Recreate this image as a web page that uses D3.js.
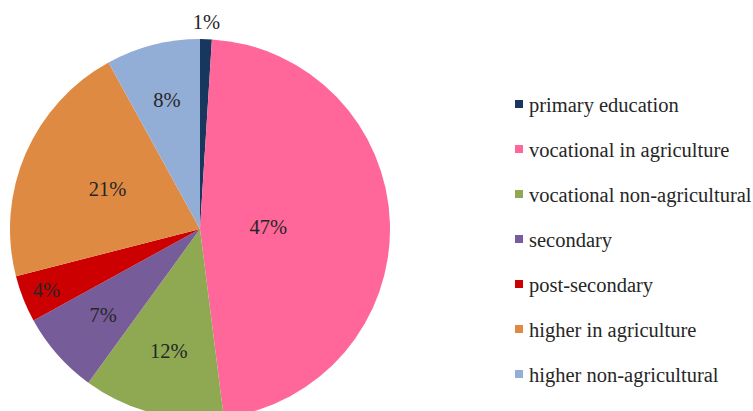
<!DOCTYPE html>
<html>
<head>
<meta charset="utf-8">
<script src="https://cdn.jsdelivr.net/npm/d3@7"></script>
<style>
  body { margin: 0; background: #fff; }
  svg { display: block; }
</style>
</head>
<body>
<svg id="chart" width="753" height="411"></svg>
<script>
// data
var categories = ["primary education", "vocational in agriculture", "vocational non-agricultural",
                  "secondary", "post-secondary", "higher in agriculture", "higher non-agricultural"];
var shares = [1, 47, 12, 7, 4, 21, 8];
var colors = ["#17375e", "#ff6699", "#8fa953", "#765c99", "#cc0000", "#df8a42", "#93aed6"];

// where each label sits, as fraction of radius (excel "best fit" look)
var labelPos = [1.09, 0.36, 0.66, 0.68, 0.87, 0.53, 0.70];

var serif = "'Liberation Serif', 'Times New Roman', serif";
var width = 753, height = 411;
var cx = 200, cy = 229, radius = 190;

var svg = d3.select("#chart");

var pie = d3.pie().sort(null).value(function(d){ return d; });
var arcs = pie(shares);

var arc = d3.arc().innerRadius(0).outerRadius(radius);

var g = svg.append("g").attr("transform", "translate(" + cx + "," + cy + ")");

g.selectAll("path")
    .data(arcs)
    .enter().append("path")
    .attr("d", arc)
    .attr("fill", function(d, i){ return colors[i]; });

g.selectAll("text.lbl")
    .data(arcs)
    .enter().append("text")
    .attr("class", "lbl")
    .attr("transform", function(d, i){
        var r = radius * labelPos[i];
        var a = (d.startAngle + d.endAngle) / 2;
        return "translate(" + (r * Math.sin(a)) + "," + (-r * Math.cos(a)) + ")";
    })
    .attr("text-anchor", "middle")
    .attr("dy", "0.35em")
    .attr("font-family", serif)
    .attr("font-size", 20.5)
    .attr("fill", "#262626")
    .text(function(d){ return d.data + "%"; });

// legend
var legend = svg.append("g").attr("transform", "translate(515,105)");
var row = legend.selectAll("g")
    .data(categories)
    .enter().append("g")
    .attr("transform", function(d, i){ return "translate(0," + (i * 45) + ")"; });

row.append("rect")
    .attr("x", 0).attr("y", -5)
    .attr("width", 8).attr("height", 8)
    .attr("fill", function(d, i){ return colors[i]; });

row.append("text")
    .attr("x", 14)
    .attr("dy", "0.32em")
    .attr("font-family", serif)
    .attr("font-size", 20.5)
    .attr("fill", "#262626")
    .text(function(d){ return d; });
</script>
</body>
</html>
